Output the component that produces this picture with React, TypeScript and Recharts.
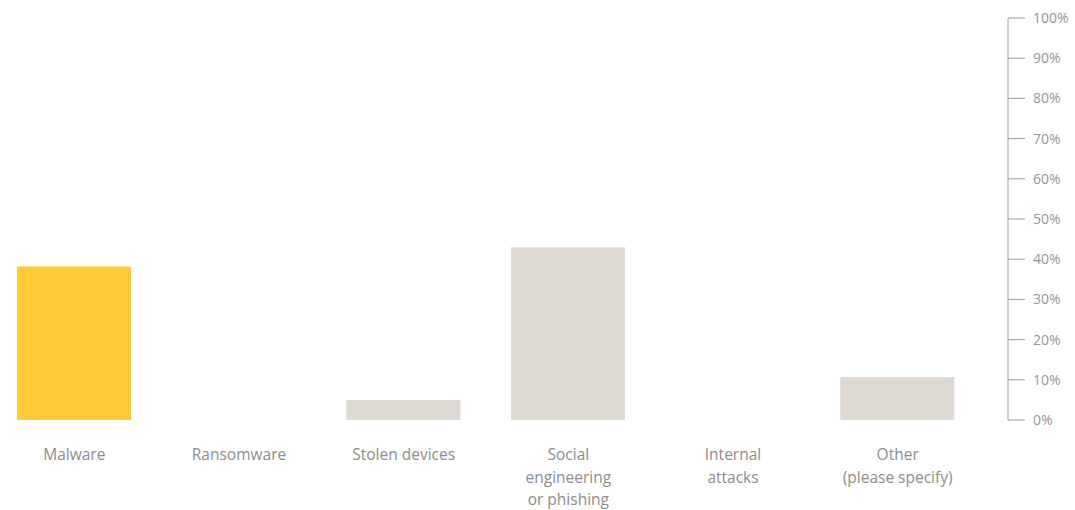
import React from "react";
import { BarChart, Bar, XAxis, YAxis, Cell } from "recharts";

const categories = [
  "Malware",
  "Ransomware",
  "Stolen devices",
  "Social\nengineering\nor phishing",
  "Internal\nattacks",
  "Other\n(please specify)",
];
const values = [38.2, 0, 5, 43, 0, 10.7];
const barColors = ["#FECB35", "#DDD9D2", "#DDD9D2", "#DDD9D2", "#DDD9D2", "#DDD9D2"];
const yTicks = [0, 10, 20, 30, 40, 50, 60, 70, 80, 90, 100];

const data = categories.map((c, i) => ({ name: c, value: values[i] }));

const CatTick = (props: any) => {
  const { x, y, payload } = props;
  const lines = String(payload.value).split("\n");
  return (
    <text
      x={x}
      y={y}
      textAnchor="middle"
      fill="#8c8c8c"
      fontSize={15.5}
      fontFamily="'Open Sans', sans-serif"
    >
      {lines.map((l, i) => (
        <tspan key={i} x={x} dy={i === 0 ? 40 : 22.5}>
          {l}
        </tspan>
      ))}
    </text>
  );
};

export default function App() {
  return (
    <div style={{ position: "absolute", left: -8, top: 0 }}>
      <BarChart
        width={1083}
        height={510}
        data={data}
        margin={{ top: 18, right: 0, bottom: 30, left: 0 }}
        barCategoryGap={0}
      >
        <XAxis
          dataKey="name"
          axisLine={false}
          tickLine={false}
          tickSize={0}
          tickMargin={0}
          interval={0}
          height={60}
          padding={{ left: 0, right: 28 }}
          tick={<CatTick />}
        />
        <YAxis
          orientation="right"
          domain={[0, 100]}
          ticks={yTicks}
          width={67}
          tickSize={17}
          tickMargin={8}
          axisLine={{ stroke: "#a39a92", strokeWidth: 1 }}
          tickLine={{ stroke: "#a39a92", strokeWidth: 1 }}
          tickFormatter={(v: number) => `${v}%`}
          tick={{ fill: "#959595", fontSize: 14, fontFamily: "'Open Sans', sans-serif" }}
        />
        <Bar dataKey="value" barSize={114} isAnimationActive={false}>
          {data.map((d, i) => (
            <Cell key={i} fill={barColors[i]} />
          ))}
        </Bar>
      </BarChart>
    </div>
  );
}
